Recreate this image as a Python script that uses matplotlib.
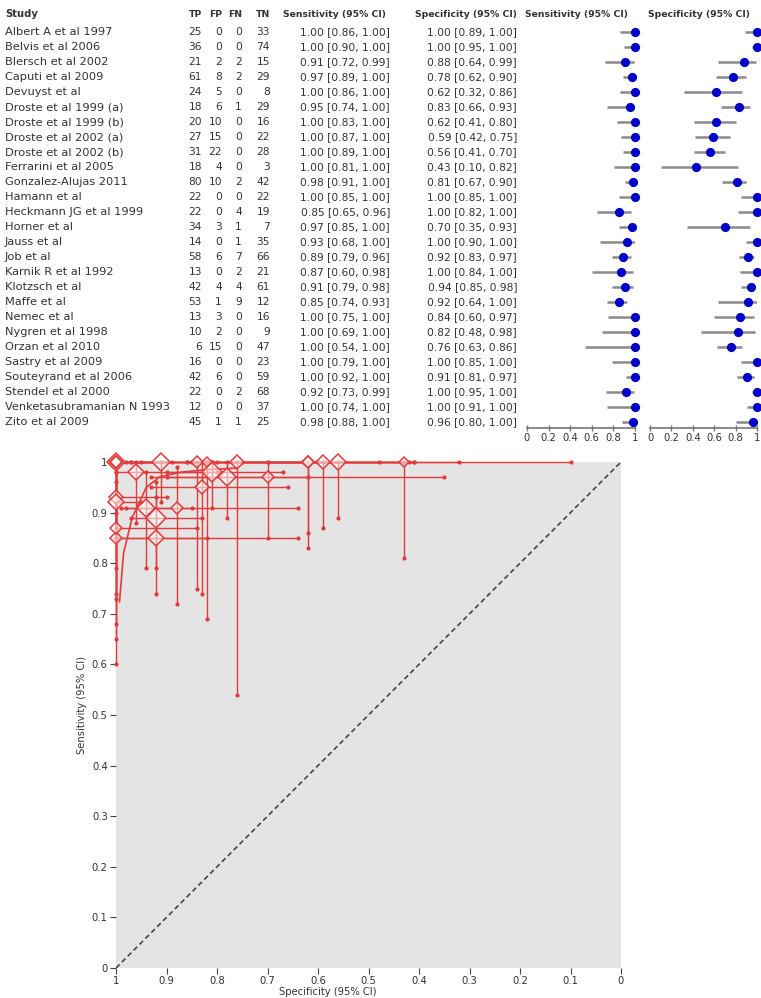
import numpy as np
import matplotlib
matplotlib.use('Agg')
import matplotlib.pyplot as plt

# study data
studies = ["Albert A et al 1997", "Belvis et al 2006", "Blersch et al 2002", "Caputi et al 2009",
           "Devuyst et al", "Droste et al 1999 (a)", "Droste et al 1999 (b)", "Droste et al 2002 (a)",
           "Droste et al 2002 (b)", "Ferrarini et al 2005", "Gonzalez-Alujas 2011", "Hamann et al",
           "Heckmann JG et al 1999", "Horner et al", "Jauss et al", "Job et al", "Karnik R et al 1992",
           "Klotzsch et al", "Maffe et al", "Nemec et al", "Nygren et al 1998", "Orzan et al 2010",
           "Sastry et al 2009", "Souteyrand et al 2006", "Stendel et al 2000",
           "Venketasubramanian N 1993", "Zito et al 2009"]
tp = [25, 36, 21, 61, 24, 18, 20, 27, 31, 18, 80, 22, 22, 34, 14, 58, 13, 42, 53, 13, 10, 6, 16, 42, 22, 12, 45]
fp = [0, 0, 2, 8, 5, 6, 10, 15, 22, 4, 10, 0, 0, 3, 0, 6, 0, 4, 1, 3, 2, 15, 0, 6, 0, 0, 1]
fn = [0, 0, 2, 2, 0, 1, 0, 0, 0, 0, 2, 0, 4, 1, 1, 7, 2, 4, 9, 0, 0, 0, 0, 0, 2, 0, 1]
tn = [33, 74, 15, 29, 8, 29, 16, 22, 28, 3, 42, 22, 19, 7, 35, 66, 21, 61, 12, 16, 9, 47, 23, 59, 68, 37, 25]

sens = [1.00, 1.00, 0.91, 0.97, 1.00, 0.95, 1.00, 1.00, 1.00, 1.00, 0.98, 1.00, 0.85, 0.97, 0.93, 0.89, 0.87,
        0.91, 0.85, 1.00, 1.00, 1.00, 1.00, 1.00, 0.92, 1.00, 0.98]
sens_lo = [0.86, 0.90, 0.72, 0.89, 0.86, 0.74, 0.83, 0.87, 0.89, 0.81, 0.91, 0.85, 0.65, 0.85, 0.68, 0.79, 0.60,
           0.79, 0.74, 0.75, 0.69, 0.54, 0.79, 0.92, 0.73, 0.74, 0.88]
sens_hi = [1.00, 1.00, 0.99, 1.00, 1.00, 1.00, 1.00, 1.00, 1.00, 1.00, 1.00, 1.00, 0.96, 1.00, 1.00, 0.96, 0.98,
           0.98, 0.93, 1.00, 1.00, 1.00, 1.00, 1.00, 0.99, 1.00, 1.00]
spec = [1.00, 1.00, 0.88, 0.78, 0.62, 0.83, 0.62, 0.59, 0.56, 0.43, 0.81, 1.00, 1.00, 0.70, 1.00, 0.92, 1.00,
        0.94, 0.92, 0.84, 0.82, 0.76, 1.00, 0.91, 1.00, 1.00, 0.96]
spec_lo = [0.89, 0.95, 0.64, 0.62, 0.32, 0.66, 0.41, 0.42, 0.41, 0.10, 0.67, 0.85, 0.82, 0.35, 0.90, 0.83, 0.84,
           0.85, 0.64, 0.60, 0.48, 0.63, 0.85, 0.81, 0.95, 0.91, 0.80]
spec_hi = [1.00, 1.00, 0.99, 0.90, 0.86, 0.93, 0.80, 0.75, 0.70, 0.82, 0.90, 1.00, 1.00, 0.93, 1.00, 0.97, 1.00,
           0.98, 1.00, 0.97, 0.98, 0.86, 1.00, 0.97, 1.00, 1.00, 1.00]

# summary ROC curve
sroc_spec = [0.993, 0.985, 0.968, 0.94, 0.913, 0.87, 0.82, 0.76]
sroc_sens = [0.724, 0.82, 0.89, 0.95, 0.971, 0.98, 0.985, 0.988]

tick_vals = [0, 0.2, 0.4, 0.6, 0.8, 1]
tick_labels = ["0", "0.2", "0.4", "0.6", "0.8", "1"]

W, H = 761, 998
fig = plt.figure(figsize=(W / 100, H / 100), dpi=100)
plt.rcParams['font.family'] = 'DejaVu Sans'
txt = '#333333'
fs_name = 8.2
fs_num = 7.7
fs_head = 6.7

# table drawn on a pixel-coordinate overlay
tab = fig.add_axes([0, 0, 1, 1])
tab.set_xlim(0, W); tab.set_ylim(H, 0); tab.axis('off')
y0, dy = 32, 15
hy = 14
tab.text(5, hy, "Study", fontsize=fs_head + 0.5, fontweight='bold', color=txt, va='center')
for xr, lab in zip([202, 222, 242, 270], ["TP", "FP", "FN", "TN"]):
    tab.text(xr, hy, lab, fontsize=fs_head, fontweight='bold', color=txt, va='center', ha='right')
tab.text(386, hy, "Sensitivity (95% CI)", fontsize=fs_head, fontweight='bold', color=txt, va='center', ha='right')
tab.text(517, hy, "Specificity (95% CI)", fontsize=fs_head, fontweight='bold', color=txt, va='center', ha='right')
tab.text(525, hy, "Sensitivity (95% CI)", fontsize=fs_head, fontweight='bold', color=txt, va='center', ha='left')
tab.text(648, hy, "Specificity (95% CI)", fontsize=fs_head, fontweight='bold', color=txt, va='center', ha='left')

for i, name in enumerate(studies):
    y = y0 + dy * i
    tab.text(5, y, name, fontsize=fs_name, color=txt, va='center')
    for xr, v in zip([202, 222, 242, 270], [tp[i], fp[i], fn[i], tn[i]]):
        tab.text(xr, y, str(v), fontsize=fs_num, color=txt, va='center', ha='right')
    tab.text(390, y, f"{sens[i]:.2f} [{sens_lo[i]:.2f}, {sens_hi[i]:.2f}]", fontsize=fs_num, color=txt,
             va='center', ha='right')
    tab.text(517, y, f"{spec[i]:.2f} [{spec_lo[i]:.2f}, {spec_hi[i]:.2f}]", fontsize=fs_num, color=txt,
             va='center', ha='right')

# forest plots
n = len(studies)
ax_top, ax_bot = 24, 428
for x0, x1, val, lo, hi in [(527, 635, sens, sens_lo, sens_hi), (650, 757, spec, spec_lo, spec_hi)]:
    fa = fig.add_axes([x0 / W, (H - ax_bot) / H, (x1 - x0) / W, (ax_bot - ax_top) / H])
    fa.set_xlim(0, 1)
    fa.set_ylim((ax_bot - y0) / dy, (ax_top - y0) / dy)
    rows = np.arange(n)
    fa.hlines(rows, lo, hi, color='#8a8a8a', lw=1.8)
    fa.plot(val, rows, 'o', color='#0000c8', ms=5.6, clip_on=False)
    fa.patch.set_visible(False)
    for s in ['top', 'right', 'left']:
        fa.spines[s].set_visible(False)
    fa.spines['bottom'].set_color('#777777')
    fa.spines['bottom'].set_linewidth(1.2)
    fa.set_yticks([])
    fa.set_xticks(tick_vals)
    fa.set_xticklabels(tick_labels)
    fa.tick_params(axis='x', direction='inout', length=5, width=1, color='#777777',
                   labelsize=7.2, labelcolor=txt, pad=1)

# SROC plot
ax = fig.add_axes([116 / W, (H - 968) / H, 505 / W, 506 / H])
ax.set_facecolor('#e4e4e4')
for s in ax.spines.values():
    s.set_visible(False)
ax.set_xlim(1, 0)
ax.set_ylim(0, 1)
t10 = np.round(np.arange(0, 1.01, 0.1), 1)
lab10 = ["0" if v == 0 else "1" if v == 1 else f"{v:g}" for v in t10]
ax.set_xticks(t10); ax.set_xticklabels(lab10)
ax.set_yticks(t10); ax.set_yticklabels(lab10)
ax.tick_params(length=4, width=0.8, color='#444444', labelsize=7.2, labelcolor=txt, pad=2)
ax.plot([1, 0], [0, 1], ls=(0, (3, 2)), color='#444444', lw=1.2)

red = '#e03a3a'
for i in range(n):
    ax.plot([spec_lo[i], spec_hi[i]], [sens[i], sens[i]], color=red, lw=1, clip_on=False, zorder=3)
    ax.plot([spec[i], spec[i]], [sens_lo[i], sens_hi[i]], color=red, lw=1, clip_on=False, zorder=3)
    ax.plot([spec_lo[i], spec_hi[i]], [sens[i], sens[i]], 'o', color=red, ms=2, clip_on=False, zorder=3)
    ax.plot([spec[i], spec[i]], [sens_lo[i], sens_hi[i]], 'o', color=red, ms=2, clip_on=False, zorder=3)
ax.plot(sroc_spec, sroc_sens, color=red, lw=1.2, zorder=3)
for i in range(n):
    tot = tp[i] + fp[i] + fn[i] + tn[i]
    ms = (8.5 + 0.09 * tot) / 1.96
    ax.plot(spec[i], sens[i], 'D', ms=ms, mfc=(1, 1, 1, 0.55), mec=red, mew=1.1, clip_on=False, zorder=4)

fig.text(82 / W, 1 - 705 / H, "Sensitivity (95% CI)", rotation=90, fontsize=7.2, color=txt,
         ha='center', va='center')
fig.text(328 / W, 1 - 992 / H, "Specificity (95% CI)", fontsize=7.2, color=txt, ha='center', va='center')

fig.savefig('out.png', dpi=100)
